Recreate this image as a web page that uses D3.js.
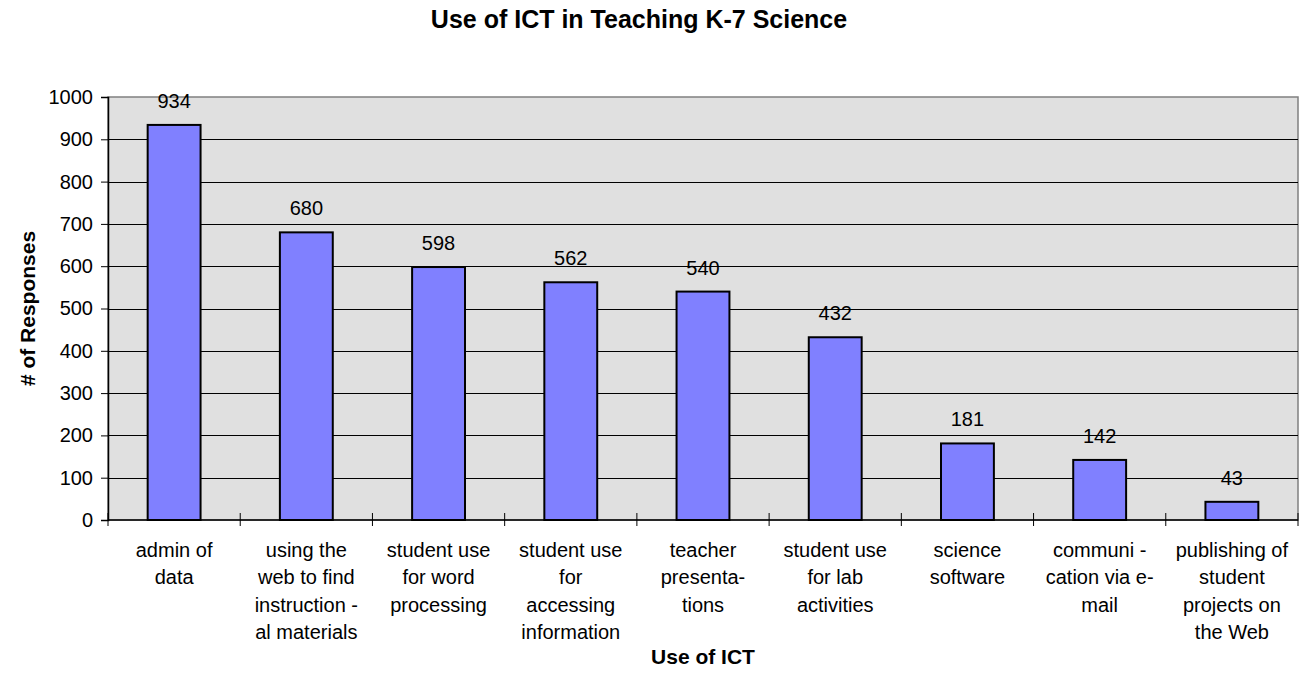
<!DOCTYPE html>
<html>
<head>
<meta charset="utf-8">
<script src="https://cdn.jsdelivr.net/npm/d3@7"></script>
<style>
  body { margin: 0; background: #fff; }
  text { font-family: "Liberation Sans", Arial, sans-serif; fill: #000; }
</style>
</head>
<body>
<div class="plot"></div>
<script>
// chart data
const categories = [
    ["admin of", "data"],
    ["using the", "web to find", "instruction -", "al materials"],
    ["student use", "for word", "processing"],
    ["student use", "for", "accessing", "information"],
    ["teacher", "presenta-", "tions"],
    ["student use", "for lab", "activities"],
    ["science", "software"],
    ["communi -", "cation via e-", "mail"],
    ["publishing of", "student", "projects on", "the Web"]
];
const responses = [934, 680, 598, 562, 540, 432, 181, 142, 43];
const yTicks = [0, 100, 200, 300, 400, 500, 600, 700, 800, 900, 1000];

const width = 1304, height = 679;
const margin = {top: 97, right: 6, bottom: 159, left: 108};
const w = width - margin.left - margin.right;
const h = height - margin.top - margin.bottom;

const svg = d3.select(".plot")
    .append("svg")
        .attr("width", width)
        .attr("height", height);

const g = svg.append("g")
    .attr("transform", "translate(" + margin.left + "," + margin.top + ")");

const idx = categories.map((d, i) => i);

const x = d3.scaleBand()
    .domain(idx)
    .range([0, w])
    .paddingInner(0.6)
    .paddingOuter(0.3);

const xCat = d3.scaleBand()
    .domain(idx)
    .range([0, w]);

const y = d3.scaleLinear()
    .domain([0, 1000])
    .range([h, 0]);

// plot background
g.append("rect")
    .attr("width", w)
    .attr("height", h)
    .attr("fill", "#e0e0e0")
    .attr("stroke", "#808080")
    .attr("stroke-width", 1.5);

// gridlines
g.selectAll(".grid")
    .data(yTicks.filter(d => d > 0 && d < 1000))
    .enter()
    .append("line")
        .attr("x1", 0)
        .attr("x2", w)
        .attr("y1", d => Math.round(y(d)) + 0.5)
        .attr("y2", d => Math.round(y(d)) + 0.5)
        .attr("stroke", "#000")
        .attr("stroke-width", 1);

// bars
g.selectAll(".bar")
    .data(responses)
    .enter()
    .append("rect")
        .attr("class", "bar")
        .attr("x", (d, i) => x(i))
        .attr("y", d => y(d))
        .attr("width", x.bandwidth())
        .attr("height", d => h - y(d))
        .attr("fill", "#8080ff")
        .attr("stroke", "#000")
        .attr("stroke-width", 2);

// value labels
g.selectAll(".val")
    .data(responses)
    .enter()
    .append("text")
        .attr("x", (d, i) => x(i) + x.bandwidth() / 2)
        .attr("y", d => y(d) - 17)
        .attr("text-anchor", "middle")
        .style("font-size", "20px")
        .text(d => d);

// y axis
const yAxis = d3.axisLeft(y)
    .tickValues(yTicks)
    .tickFormat(d3.format("d"))
    .tickSize(7)
    .tickPadding(8);
const ya = g.append("g").call(yAxis);
ya.select(".domain").attr("stroke", "#000").attr("stroke-width", 1.5);
ya.selectAll("text")
    .style("font-size", "20px")
    .style("font-family", "Liberation Sans, Arial, sans-serif");

// x axis with crossing ticks at category boundaries
g.append("line")
    .attr("x1", 0).attr("x2", w)
    .attr("y1", h).attr("y2", h)
    .attr("stroke", "#000").attr("stroke-width", 1.5);

const bounds = idx.map(i => xCat(i)).concat([w]);
g.selectAll(".xtick")
    .data(bounds)
    .enter()
    .append("line")
        .attr("x1", d => d).attr("x2", d => d)
        .attr("y1", h - 7).attr("y2", h + 6)
        .attr("stroke", "#000").attr("stroke-width", 1);

// category labels
const cat = g.selectAll(".cat")
    .data(categories)
    .enter()
    .append("text")
        .attr("text-anchor", "middle")
        .attr("transform", (d, i) => "translate(" + (xCat(i) + xCat.bandwidth() / 2) + "," + (h + 37) + ")")
        .style("font-size", "20px");
cat.selectAll("tspan")
    .data(d => d)
    .enter()
    .append("tspan")
        .attr("x", 0)
        .attr("y", (d, i) => i * 27.3)
        .text(d => d);

// titles
svg.append("text")
    .attr("x", 639)
    .attr("y", 28)
    .attr("text-anchor", "middle")
    .style("font-size", "25px")
    .style("font-weight", "bold")
    .text("Use of ICT in Teaching K-7 Science");

svg.append("text")
    .attr("x", margin.left + w / 2)
    .attr("y", 664)
    .attr("text-anchor", "middle")
    .style("font-size", "21px")
    .style("font-weight", "bold")
    .text("Use of ICT");

svg.append("text")
    .attr("transform", "translate(35," + (margin.top + h / 2) + ") rotate(-90)")
    .attr("text-anchor", "middle")
    .style("font-size", "21px")
    .style("font-weight", "bold")
    .text("# of Responses");
</script>
</body>
</html>
